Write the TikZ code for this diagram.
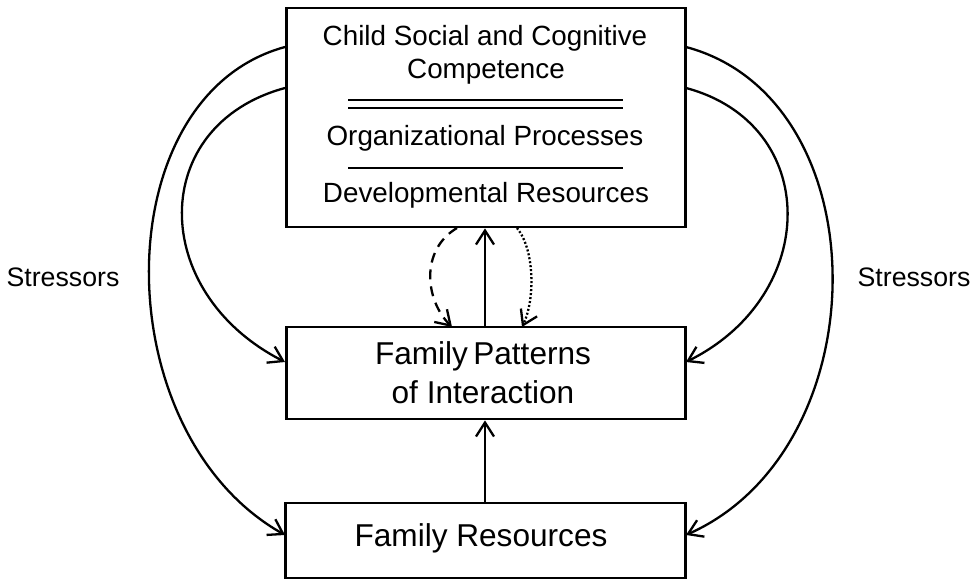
\documentclass[tikz,border=0pt]{standalone}
\usepackage{fontspec}
\setmainfont{Liberation Sans}
\usetikzlibrary{arrows.meta}
\begin{document}
\begin{tikzpicture}[x=1pt,y=-1pt,
  box/.style={draw, line width=2.8pt, inner sep=0pt},
  conn/.style={line width=2.3pt, -{Straight Barb[length=14pt,width=18pt,line width=2.3pt]}},
  toptxt/.style={font=\fontsize{27.8}{30}\selectfont, inner sep=0pt},
  midtxt/.style={font=\fontsize{31.6}{39}\selectfont, align=center, inner sep=0pt},
  sep/.style={line width=1.8pt},
  lbl/.style={font=\fontsize{26.7}{30}\selectfont, inner sep=0pt}]
\useasboundingbox (0,0) rectangle (977,580);
% boxes
\node[box, minimum width=399pt, minimum height=219pt] (top) at (486,117.5) {};
\node[box, minimum width=399pt, minimum height=92pt] (mid) at (486,373) {};
\node[box, minimum width=400pt, minimum height=75pt] (bot) at (485.5,540.5) {};
% top box content
\node[toptxt] (t1) at (485,38) {Child Social and Cognitive};
\node[toptxt] (t2) at (486,72) {Competence};
\node[toptxt] (t3) at (485,138) {Organizational Processes};
\node[toptxt] (t4) at (486,195) {Developmental Resources};
\coordinate (s1a) at (348,100); \coordinate (s1b) at (623,100);
\coordinate (s2a) at (348,108); \coordinate (s2b) at (623,108);
\coordinate (s3a) at (348,168); \coordinate (s3b) at (623,168);
\draw[sep] (s1a) -- (s1b);
\draw[sep] (s2a) -- (s2b);
\draw[sep] (s3a) -- (s3b);
% middle & bottom text
\node[midtxt] (m) at (483,372.5) {Family\,Patterns\\of Interaction};
\node[midtxt] (b) at (481,538) {Family Resources};
% labels
\node[lbl] (ls) at (63,277) {Stressors};
\node[lbl] (rs) at (914,277) {Stressors};
% side curves
\draw[conn] (285,47) .. controls (104,96) and (104,433) .. (285,535);
\draw[conn] (285,88) .. controls (148,125) and (148,292) .. (285,362);
\draw[conn] (686,47) .. controls (881,99) and (881,448) .. (686,535);
\draw[conn] (686,88) .. controls (821,124) and (821,295) .. (686,362);
% center arrows
\draw[conn] (mid.north -| 485,0) -- (top.south -| 485,0);
\draw[conn] (bot.north -| 485,0) -- (mid.south -| 485,0);
\draw[conn, dash pattern=on 10pt off 7pt] (457,228) .. controls (420,250) and (425,300) .. (452,327);
\draw[conn, dash pattern=on 2pt off 2pt] (517,228) .. controls (535,250) and (535,300) .. (522,327);
\end{tikzpicture}
\end{document}
